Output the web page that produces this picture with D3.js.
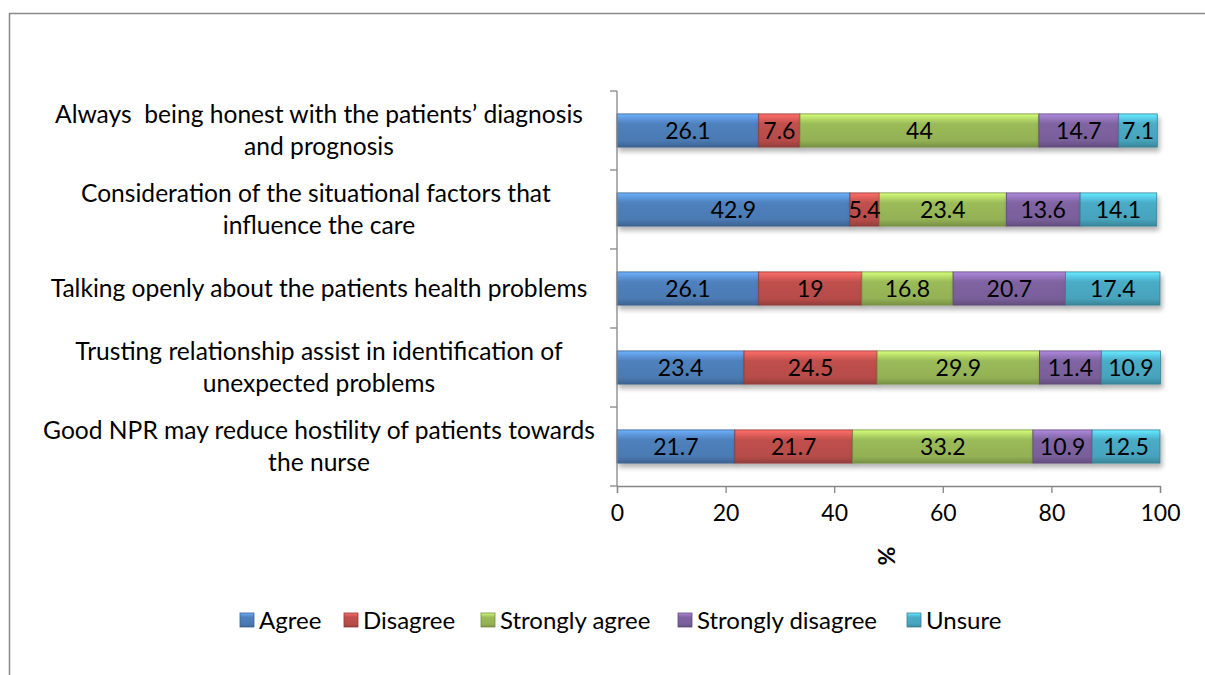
<!DOCTYPE html>
<html>
<head>
<meta charset="utf-8">
<script src="https://cdn.jsdelivr.net/npm/d3@7"></script>
<style>
  body { margin: 0; background: #fff; }
  svg text { font-family: Lato, "Open Sans", sans-serif; fill: #000; white-space: pre; }
</style>
</head>
<body>
<div id="chart"></div>
<script>
// categories, top to bottom
var categories = [
  ["Always  being honest with the patients\u2019 diagnosis", "and prognosis"],
  ["Consideration of the situational factors that ", "influence the care"],
  ["Talking openly about the patients health problems"],
  ["Trusting relationship assist in identification of", "unexpected problems"],
  ["Good NPR may reduce hostility of patients towards", "the nurse"]
]
var seriesNames = ["Agree", "Disagree", "Strongly agree", "Strongly disagree", "Unsure"]
var seriesColors = ["#4F81BD", "#C0504D", "#9BBB59", "#8064A2", "#4BACC6"]

var agree = [26.1, 42.9, 26.1, 23.4, 21.7]
var disagree = [7.6, 5.4, 19, 24.5, 21.7]
var stronglyAgree = [44, 23.4, 16.8, 29.9, 33.2]
var stronglyDisagree = [14.7, 13.6, 20.7, 11.4, 10.9]
var unsure = [7.1, 14.1, 17.4, 10.9, 12.5]
var xTicks = [0, 20, 40, 60, 80, 100]

var seriesValues = [agree, disagree, stronglyAgree, stronglyDisagree, unsure]

var width = 1205, height = 675
var plotLeft = 617, plotRight = 1160, plotTop = 91, plotBottom = 486

var svg = d3.select("#chart").append("svg")
  .attr("width", width).attr("height", height)

// chart border
svg.append("rect")
  .attr("x", 9.5).attr("y", 13.5)
  .attr("width", 1210).attr("height", 700)
  .attr("fill", "none").attr("stroke", "#898989").attr("stroke-width", 1.5)

var defs = svg.append("defs")
seriesColors.forEach(function(c, i) {
  var g = defs.append("linearGradient").attr("id", "grad" + i)
    .attr("x1", 0).attr("y1", 0).attr("x2", 0).attr("y2", 1)
  var base = d3.color(c)
  g.append("stop").attr("offset", "0%").attr("stop-color", base.brighter(0.9))
  g.append("stop").attr("offset", "18%").attr("stop-color", base.brighter(0.35))
  g.append("stop").attr("offset", "30%").attr("stop-color", base)
  g.append("stop").attr("offset", "80%").attr("stop-color", base.darker(0.15))
  g.append("stop").attr("offset", "100%").attr("stop-color", base.darker(0.7))
})
var shadow = defs.append("filter").attr("id", "shadow")
  .attr("x", "-5%").attr("y", "-20%").attr("width", "110%").attr("height", "160%")
shadow.append("feGaussianBlur").attr("in", "SourceAlpha").attr("stdDeviation", 2.5)
shadow.append("feOffset").attr("dx", 2).attr("dy", 4).attr("result", "b")
shadow.append("feComponentTransfer").append("feFuncA").attr("type", "linear").attr("slope", 0.3)
var merge = shadow.append("feMerge")
merge.append("feMergeNode")
merge.append("feMergeNode").attr("in", "SourceGraphic")

var x = d3.scaleLinear().domain([0, 100]).range([plotLeft, plotRight])
var y = d3.scaleBand().domain(d3.range(categories.length))
  .range([plotTop, plotBottom]).paddingInner(0.58).paddingOuter(0.29)
var band = d3.scaleBand().domain(d3.range(categories.length))
  .range([plotTop, plotBottom])

// stack
var rows = categories.map(function(c, i) {
  var r = { idx: i }
  seriesNames.forEach(function(s, j) { r[s] = seriesValues[j][i] })
  return r
})
var stacked = d3.stack().keys(seriesNames)(rows)

var layer = svg.append("g").selectAll("g")
  .data(stacked).enter().append("g")
  .attr("filter", "url(#shadow)")

layer.each(function(s, j) {
  var g = d3.select(this)
  g.selectAll("rect").data(s).enter().append("rect")
    .attr("x", function(d) { return x(d[0]) })
    .attr("y", function(d) { return y(d.data.idx) })
    .attr("width", function(d) { return x(d[1]) - x(d[0]) })
    .attr("height", y.bandwidth())
    .attr("fill", "url(#grad" + j + ")")
    .attr("stroke", d3.color(seriesColors[j]).darker(0.8))
    .attr("stroke-width", 0.8)
})

// data labels
stacked.forEach(function(s) {
  svg.append("g").selectAll("text").data(s).enter().append("text")
    .attr("x", function(d) { return (x(d[0]) + x(d[1])) / 2 })
    .attr("y", function(d) { return y(d.data.idx) + y.bandwidth() / 2 })
    .attr("dy", "0.36em")
    .attr("text-anchor", "middle")
    .attr("font-size", "23px")
    .text(function(d) { return d.data[s.key] })
})

// y axis
var yAxis = svg.append("g")
yAxis.append("line")
  .attr("x1", plotLeft).attr("x2", plotLeft)
  .attr("y1", plotTop).attr("y2", plotBottom)
  .attr("stroke", "#868686").attr("stroke-width", 1.3)
yAxis.selectAll("line.tick").data(d3.range(categories.length + 1)).enter().append("line")
  .attr("class", "tick")
  .attr("x1", plotLeft - 7).attr("x2", plotLeft)
  .attr("y1", function(i) { return i < categories.length ? band(i) : plotBottom })
  .attr("y2", function(i) { return i < categories.length ? band(i) : plotBottom })
  .attr("stroke", "#868686").attr("stroke-width", 1.3)

// category labels
categories.forEach(function(lines, i) {
  var cy = band(i) + band.bandwidth() / 2
  var t = svg.append("text")
    .attr("text-anchor", "middle")
    .attr("font-size", "24.6px")
  lines.forEach(function(l, k) {
    t.append("tspan")
      .attr("x", 319)
      .attr("y", cy + (k - (lines.length - 1) / 2) * 32)
      .attr("dy", "0.36em")
      .text(l)
  })
})

// x axis
var xAxis = svg.append("g").attr("transform", "translate(0," + plotBottom + ")")
  .call(d3.axisBottom(x).tickValues(xTicks).tickSize(7).tickPadding(12))
xAxis.select(".domain").attr("stroke", "#868686").attr("stroke-width", 1.3)
xAxis.selectAll(".tick line").attr("stroke", "#868686").attr("stroke-width", 1.3)
xAxis.selectAll(".tick text").attr("font-size", "23px")
  .style("font-family", "Lato, 'Open Sans', sans-serif").attr("fill", "#000")

svg.append("text")
  .attr("transform", "translate(887,556) rotate(-90)")
  .attr("text-anchor", "middle")
  .attr("dy", "0.36em")
  .attr("font-size", "23px")
  .attr("font-weight", "bold")
  .text("%")

// legend
var legendX = [240, 344, 481, 678, 907]
var legend = svg.append("g").selectAll("g").data(seriesNames).enter().append("g")
  .attr("transform", function(d, i) { return "translate(" + legendX[i] + ",620)" })
legend.append("rect")
  .attr("x", 0).attr("y", -7).attr("width", 14).attr("height", 14)
  .attr("fill", function(d, i) { return "url(#grad" + i + ")" })
  .attr("stroke", function(d, i) { return d3.color(seriesColors[i]).darker(0.8) })
  .attr("stroke-width", 0.8)
legend.append("text")
  .attr("x", 19).attr("dy", "0.36em")
  .attr("font-size", "24px")
  .text(function(d) { return d })
</script>
</body>
</html>
